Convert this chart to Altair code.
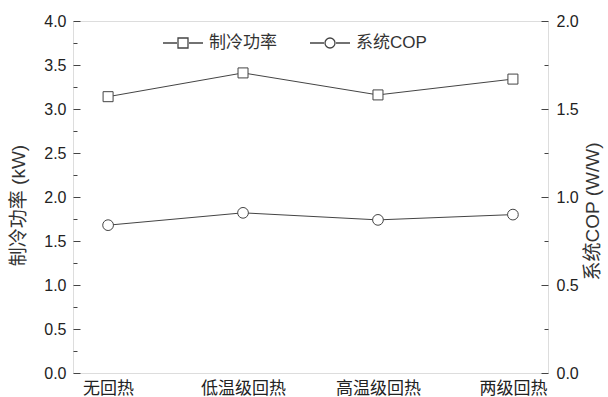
import altair as alt
import pandas as pd

# Operating modes on the x axis
modes = ["无回热", "低温级回热", "高温级回热", "两级回热"]
# Cooling capacity (kW) and system COP (W/W) for each mode
cooling_kw = [3.14, 3.41, 3.16, 3.34]
cop = [0.84, 0.91, 0.87, 0.90]
series_names = ["制冷功率", "系统COP"]

# Axis tick values (major every 0.5 / minor every 0.25)
left_ticks = [i * 0.25 for i in range(17)]
right_ticks = [i * 0.25 for i in range(9)]

power_df = pd.DataFrame({"mode": modes, "value": cooling_kw})
cop_df = pd.DataFrame({"mode": modes, "value": cop})
legend_df = pd.DataFrame({
    "mode": modes * 2,
    "value": cooling_kw + cop,
    "series": [series_names[0]] * 4 + [series_names[1]] * 4,
})

FONT = "Liberation Sans, Arial, Noto Sans CJK SC"
INK = "#444444"
TEXT = "#222222"
TICK = 7  # major tick length; axes are pulled inside the frame by this much

# legend glyphs: a short line with an open marker in the middle
legend_square = "M-1,0H-0.3M0.3,0H1M-0.25,-0.25H0.25V0.25H-0.25Z"
legend_circle = "M-1,0H-0.3M0.3,0H1M0.25,0A0.25,0.25,0,1,1,-0.25,0A0.25,0.25,0,1,1,0.25,0Z"

x_enc = alt.X(
    "mode:N",
    sort=modes,
    scale=alt.Scale(type="point", padding=0.26),
    axis=alt.Axis(
        title=None, labelAngle=0, ticks=False, domain=False,
        labelFont=FONT, labelFontSize=17, labelColor=TEXT, labelPadding=7,
        labelBaseline="top",
    ),
)

# ticks run from the shifted axis line back to the frame; minor ones are
# drawn only on the 4px next to the frame
minor_dash = {"condition": {"test": "datum.value % 0.5 !== 0", "value": [4, 3]},
              "value": [7, 0]}
minor_dash_offset = {"condition": {"test": "datum.value % 0.5 !== 0", "value": 4},
                     "value": 0}

left_axis = alt.Axis(
    orient="left", values=left_ticks, offset=-TICK,
    labelExpr="datum.value % 0.5 === 0 ? format(datum.value, '.1f') : ''",
    tickSize=TICK, tickColor=INK, tickWidth=1,
    tickDash=minor_dash, tickDashOffset=minor_dash_offset,
    domain=False, grid=False,
    labelFont=FONT, labelFontSize=16, labelColor=TEXT, labelPadding=7,
    titleFont=FONT, titleFontSize=19, titleFontWeight="normal", titleColor="#333333",
    titleAngle=270, titleAlign="center", titleBaseline="middle",
    titleX=-62, titleY=184,
)

right_axis = alt.Axis(
    orient="right", values=right_ticks, offset=-TICK,
    labelExpr="datum.value % 0.5 === 0 ? format(datum.value, '.1f') : ''",
    tickSize=TICK, tickColor=INK, tickWidth=1,
    tickDash=minor_dash, tickDashOffset=minor_dash_offset,
    domain=False, grid=False,
    labelFont=FONT, labelFontSize=16, labelColor=TEXT, labelPadding=8,
    titleFont=FONT, titleFontSize=19, titleFontWeight="normal", titleColor="#333333",
    titleAngle=270, titleAlign="center", titleBaseline="middle",
    titleX=51, titleY=190,
)

power = alt.Chart(power_df).mark_line(
    color=INK, strokeWidth=1,
    point=alt.OverlayMarkDef(shape="square", size=100, filled=False, fill="white",
                             stroke=INK, strokeWidth=1),
).encode(
    x=x_enc,
    y=alt.Y("value:Q", scale=alt.Scale(domain=[0, 4], nice=False, zero=False),
            title="制冷功率 (kW)", axis=left_axis),
)

cop_layer = alt.Chart(cop_df).mark_line(
    color=INK, strokeWidth=1,
    point=alt.OverlayMarkDef(shape="circle", size=115, filled=False, fill="white",
                             stroke=INK, strokeWidth=1),
).encode(
    x=x_enc,
    y=alt.Y("value:Q", scale=alt.Scale(domain=[0, 2], nice=False, zero=False),
            title="系统COP (W/W)", axis=right_axis),
)

legend_layer = alt.Chart(legend_df).mark_point(opacity=0, color=INK, filled=False).encode(
    x=x_enc,
    y=alt.Y("value:Q", scale=alt.Scale(domain=[0, 4], nice=False), axis=None),
    shape=alt.Shape(
        "series:N",
        sort=series_names,
        scale=alt.Scale(domain=series_names, range=[legend_square, legend_circle]),
        legend=alt.Legend(
            title=None, orient="none", direction="horizontal",
            legendX=89, legendY=1,
            symbolSize=1600, symbolOpacity=1, symbolStrokeColor=INK,
            symbolFillColor="white", symbolStrokeWidth=1.3,
            labelFont=FONT, labelFontSize=17, labelColor="#333333",
            labelOffset=5, columnPadding=30, padding=0,
        ),
    ),
)

chart = alt.layer(power, cop_layer, legend_layer).resolve_scale(
    y="independent"
).properties(
    width=475, height=352,
    autosize=alt.AutoSizeParams(type="none"),
    padding={"left": 73, "top": 21, "right": 60, "bottom": 24},
).configure_view(
    stroke="#1e1e1e", strokeWidth=1.6,
).configure(background="white")

chart.save("out.html", embed_options={"renderer": "svg", "actions": False})
